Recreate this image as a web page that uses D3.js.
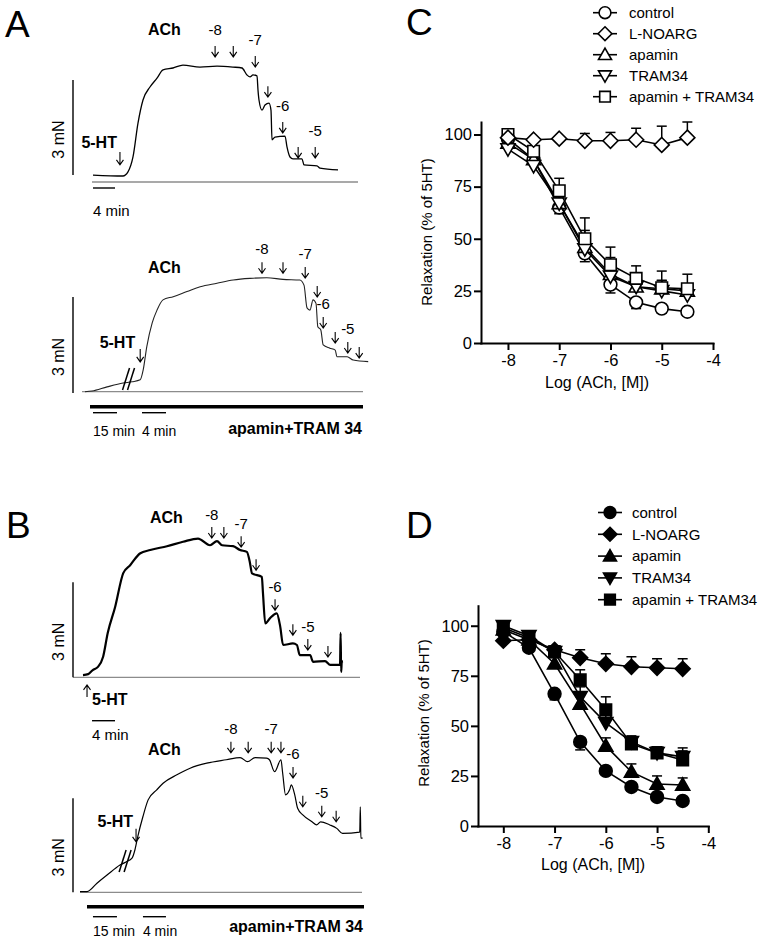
<!DOCTYPE html>
<html><head><meta charset="utf-8">
<script src="https://cdn.jsdelivr.net/npm/d3@7"></script>
<style>
body{margin:0;background:#fff;}
svg{display:block;font-family:"Liberation Sans",Arial,Helvetica,sans-serif;}
</style></head><body>
<svg id="fig" width="768" height="941"></svg>
<script>
// ---------------- DATA ----------------
const concLog = [-8, -7.5, -7, -6.5, -6, -5.5, -5, -4.5];
const seriesNames = ["control", "L-NOARG", "apamin", "TRAM34", "apamin + TRAM34"];
const seriesSymbols = ["circle", "diamond", "triUp", "triDown", "square"];
const errorDir = [-1, 1, 1, 1, 1];
const drawOrder = [0, 2, 3, 4, 1];
const xTickVals = [-8, -7, -6, -5, -4];
const yTickVals = [0, 25, 50, 75, 100];

// Panel C (open symbols)
const cControl = [98, 88, 65, 43, 28, 19.5, 16.5, 15];
const cLnoarg  = [98.5, 97.5, 98, 97, 97, 97.5, 95, 98.5];
const cApamin  = [96, 88, 67, 46, 33, 27, 26, 25];
const cTram34  = [93, 85, 67, 45, 32, 27, 25, 23];
const cApaTram = [100, 92, 73, 50, 37.5, 31, 26.5, 26];
const cControlErr = [2, 2, 3, 4, 4, 3, 2, 1];
const cLnoargErr  = [1, 1, 1, 3.5, 4, 5.5, 9, 7.5];
const cApaminErr  = [2, 2, 3, 5, 8, 4, 4, 3];
const cTram34Err  = [2, 2, 4, 9, 5, 5, 5, 4];
const cApaTramErr = [2, 2, 6, 10, 8.5, 6, 8, 7];

// Panel D (filled symbols)
const dControl = [97, 89, 66, 42, 27.5, 19.5, 14.5, 12.5];
const dLnoarg  = [92.5, 93, 88, 84, 81, 79.5, 79, 78.5];
const dApamin  = [98, 93, 81, 61, 40, 27, 21, 20.5];
const dTram34  = [100, 95, 87, 64.5, 51.5, 42, 36.5, 34.5];
const dApaTram = [99, 94, 87, 73, 58, 41, 36.5, 33];
const dControlErr = [2, 1.5, 3, 4, 1.5, 1.5, 1.5, 1];
const dLnoargErr  = [1, 1, 1.5, 4, 5, 5, 4.5, 5];
const dApaminErr  = [2, 2, 3, 5, 4, 4, 4, 3.5];
const dTram34Err  = [2, 2, 3, 5, 5, 3, 3, 3];
const dApaTramErr = [2, 2, 3, 5, 6.5, 3, 3, 6];

// Tension traces: [time (min), force (mN)]
const traceA1 = [[0,0.22],[5.45,0.19],[6.36,0.32],[7.27,0.79],[8.18,1.86],[9.09,2.59],[10.36,3.0],[11.64,3.28],[12.73,3.54],[14.55,3.6],[16.36,3.69],[19.45,3.63],[22.55,3.66],[25.45,3.63],[27.09,3.6],[28.0,3.38],[28.55,3.32],[29.09,3.38],[29.82,3.35],[30.0,2.9],[30.18,2.59],[30.73,2.27],[31.27,2.43],[32.0,2.49],[32.36,2.27],[32.55,1.33],[33.09,1.42],[34.91,1.45],[35.27,1.11],[35.82,0.79],[36.36,0.73],[38.0,0.73],[38.36,0.54],[40.73,0.51],[41.27,0.44],[44.55,0.38]];
const arrowsA1 = [[4.9,0.54,"5-HT"],[22.2,3.95,"-8"],[25.5,3.95,""],[29.5,3.63,"-7"],[31.8,2.68,""],[34.5,1.55,"-6"],[37.3,0.76,""],[40.4,0.76,"-5"]];

const traceA2 = [[0,0],[4.4,0.02],[13.8,0.15],[23.8,0.27],[29.4,0.31],[31.2,0.37],[31.7,0.68],[32.3,1.41],[33.2,2.15],[34.0,2.55],[35.0,2.87],[36.7,2.97],[39.0,3.13],[41.2,3.28],[44.0,3.39],[46.7,3.49],[49.5,3.54],[52.3,3.56],[55.0,3.51],[57.8,3.49],[58.5,3.33],[59.0,2.62],[59.5,2.55],[60.0,2.87],[60.5,2.76],[60.8,2.03],[61.3,1.93],[61.7,1.46],[62.8,1.36],[63.7,1.30],[64.0,1.09],[65.7,1.09],[66.7,0.99],[69.2,0.94]];
const arrowsA2 = [[31.2,0.93,"5-HT"],[51.5,3.70,"-8"],[55.0,3.70,""],[58.7,3.55,"-7"],[60.7,2.96,""],[61.7,1.99,"-6"],[63.7,1.52,""],[65.8,1.21,"-5"],[67.7,1.05,""]];

const traceB1 = [[0,0.07],[0.9,0.10],[1.7,0.23],[2.6,0.33],[3.5,0.65],[4.3,1.40],[5.6,2.23],[7.0,3.29],[8.2,3.54],[9.9,3.91],[11.7,4.02],[14.6,4.14],[17.4,4.28],[20.0,4.38],[22.1,4.17],[23.3,4.30],[24.2,4.17],[26.1,4.14],[27.3,4.02],[28.5,3.96],[29.0,3.65],[29.4,3.28],[31.1,3.17],[31.3,2.66],[31.7,1.70],[32.5,1.86],[33.7,2.02],[34.3,1.60],[34.8,1.02],[36.5,1.07],[37.2,1.02],[37.7,0.70],[39.5,0.70],[40.0,0.49],[42.1,0.51],[43.0,0.39],[44.3,0.39],[44.7,0.39],[44.8,1.40],[44.9,0.17],[45.0,0.49],[45.2,0.51]];
const arrowsB1 = [[0.7,-0.24,"5-HT"],[22.4,4.40,"-8"],[24.5,4.40,""],[27.5,4.11,"-7"],[30.1,3.38,""],[33.4,2.12,"-6"],[36.5,1.33,""],[39.1,0.86,"-5"],[42.6,0.64,""]];

const traceB2 = [[0,0.02],[4.4,0.02],[10.6,0.29],[16.9,0.55],[25.0,0.87],[28.75,0.97],[30.7,1.09],[31.2,1.35],[31.7,1.78],[32.6,2.42],[33.5,2.95],[35.0,3.27],[36.1,3.48],[38.5,3.75],[40.8,3.96],[43.7,4.12],[47.1,4.23],[49.5,4.30],[50.8,4.17],[52.1,4.30],[54.1,4.28],[54.6,4.23],[55.5,3.85],[56.6,4.23],[56.9,3.80],[57.4,3.11],[58.1,3.27],[58.4,3.43],[59.0,3.11],[59.5,2.68],[60.4,2.47],[62.0,2.25],[62.8,2.15],[63.5,2.25],[65.1,2.15],[66.3,2.04],[67.3,1.88],[70.3,1.92],[70.4,2.73],[70.5,1.73],[70.8,1.73]];
const arrowsB2 = [[31.4,1.61,"5-HT"],[47.9,4.45,"-8"],[50.9,4.45,""],[54.9,4.45,"-7"],[56.6,4.45,""],[58.7,3.65,"-6"],[60.4,2.73,""],[63.7,2.41,"-5"],[66.2,2.25,""]];

// ---------------- DRAWING ----------------
const svg = d3.select("#fig");
svg.append("rect").attr("width", 768).attr("height", 941).attr("fill", "#fff");

const symbolTypes = {
  circle:  {draw(c, s){ const r = Math.sqrt(s); c.moveTo(r, 0); c.arc(0, 0, r, 0, 2 * Math.PI); }},
  square:  {draw(c, s){ const r = Math.sqrt(s) * 0.9; c.moveTo(-r, -r); c.lineTo(r, -r); c.lineTo(r, r); c.lineTo(-r, r); c.closePath(); }},
  diamond: {draw(c, s){ const r = Math.sqrt(s) * 1.17; c.moveTo(0, -r); c.lineTo(r, 0); c.lineTo(0, r); c.lineTo(-r, 0); c.closePath(); }},
  triUp:   {draw(c, s){ const r = Math.sqrt(s) * 1.1; c.moveTo(0, -r); c.lineTo(r, r * 0.75); c.lineTo(-r, r * 0.75); c.closePath(); }},
  triDown: {draw(c, s){ const r = Math.sqrt(s) * 1.1; c.moveTo(0, r); c.lineTo(r, -r * 0.75); c.lineTo(-r, -r * 0.75); c.closePath(); }}
};
const symSize = 6.4 * 6.4;

function drawChart(cfg) {
  const x = d3.scaleLinear().domain(cfg.xDomain).range(cfg.xRange);
  const y = d3.scaleLinear().domain(cfg.yDomain).range(cfg.yRange);
  const g = svg.append("g");

  const xAxis = g.append("g").attr("transform", `translate(0,${cfg.yRange[0]})`)
    .call(d3.axisBottom(x).tickValues(xTickVals).tickSize(7).tickSizeOuter(0).tickPadding(4).tickFormat(d => String(d)));
  const yAxis = g.append("g").attr("transform", `translate(${cfg.xRange[0]},0)`)
    .call(d3.axisLeft(y).tickValues(yTickVals).tickSize(7).tickSizeOuter(0).tickPadding(2).tickFormat(d => String(d)));
  [xAxis, yAxis].forEach(a => {
    a.select(".domain").attr("stroke", "#000").attr("stroke-width", 2).attr("stroke-linecap", "square");
    a.selectAll(".tick line").attr("stroke", "#000").attr("stroke-width", 2);
    a.selectAll(".tick text").attr("fill", "#000").style("font-size", "16.5px")
      .style("font-family", '"Liberation Sans", Arial, sans-serif');
  });

  g.append("text").attr("transform", `translate(${cfg.yTitle[0]},${cfg.yTitle[1]}) rotate(-90)`)
    .attr("text-anchor", "middle").attr("dy", "0.35em").style("font-size", "15px")
    .text("Relaxation (% of 5HT)");
  g.append("text").attr("x", cfg.xTitle[0]).attr("y", cfg.xTitle[1])
    .attr("text-anchor", "middle").style("font-size", "16px").text("Log (ACh, [M])");

  const fill = cfg.filled ? "#000" : "#fff";
  const line = d3.line().x((d, j) => x(concLog[j])).y(d => y(d));

  drawOrder.forEach(i => {
    const vals = cfg.values[i], errs = cfg.errs[i], dir = errorDir[i];
    g.append("path").attr("d", line(vals)).attr("fill", "none").attr("stroke", "#000").attr("stroke-width", 1.6);
    const eb = g.append("g");
    vals.forEach((v, j) => {
      const cx = x(concLog[j]), y0 = y(v), y1 = y(v + dir * errs[j]);
      eb.append("line").attr("x1", cx).attr("x2", cx).attr("y1", y0).attr("y2", y1).attr("stroke", "#000").attr("stroke-width", 1.5);
      eb.append("line").attr("x1", cx - 5).attr("x2", cx + 5).attr("y1", y1).attr("y2", y1).attr("stroke", "#000").attr("stroke-width", 1.5);
    });
    g.append("g").selectAll("path").data(vals).join("path")
      .attr("transform", (d, j) => `translate(${x(concLog[j])},${y(d)})`)
      .attr("d", d3.symbol().type(symbolTypes[seriesSymbols[i]]).size(symSize))
      .attr("fill", fill).attr("stroke", "#000").attr("stroke-width", 1.6);
  });

  // legend
  const lg = g.append("g");
  seriesNames.forEach((name, i) => {
    const ly = cfg.legend.y0 + i * cfg.legend.dy;
    lg.append("line").attr("x1", cfg.legend.x - 12).attr("x2", cfg.legend.x + 12).attr("y1", ly).attr("y2", ly)
      .attr("stroke", "#000").attr("stroke-width", 1.6);
    lg.append("path").attr("transform", `translate(${cfg.legend.x},${ly})`)
      .attr("d", d3.symbol().type(symbolTypes[seriesSymbols[i]]).size(symSize * 0.85))
      .attr("fill", fill).attr("stroke", "#000").attr("stroke-width", 1.6);
    lg.append("text").attr("x", cfg.legend.textX).attr("y", ly).attr("dy", "0.35em")
      .style("font-size", "15px").text(name);
  });
}

drawChart({
  xDomain: [-8.526, -4], xRange: [481, 713], yDomain: [0, 106], yRange: [343, 122],
  yTitle: [427, 232], xTitle: [597, 388], filled: false,
  values: [cControl, cLnoarg, cApamin, cTram34, cApaTram],
  errs: [cControlErr, cLnoargErr, cApaminErr, cTram34Err, cApaTramErr],
  legend: {x: 605, textX: 629, y0: 12.7, dy: 21}
});
drawChart({
  xDomain: [-8.494, -4], xRange: [478, 708.3], yDomain: [0, 110], yRange: [826, 605.7],
  yTitle: [424, 713], xTitle: [593, 870], filled: true,
  values: [dControl, dLnoarg, dApamin, dTram34, dApaTram],
  errs: [dControlErr, dLnoargErr, dApaminErr, dTram34Err, dApaTramErr],
  legend: {x: 610, textX: 632, y0: 512.5, dy: 21.8}
});

function drawArrow(g, ax, tipY, len, up) {
  const s = up ? 1 : -1; // direction of tail from tip
  g.append("path")
    .attr("d", `M${ax},${tipY + s * len}L${ax},${tipY}M${ax - 3.5},${tipY + s * 5}L${ax},${tipY}L${ax + 3.5},${tipY + s * 5}`)
    .attr("fill", "none").attr("stroke", "#000").attr("stroke-width", 1.1);
}

function drawTrace(cfg) {
  const x = d3.scaleLinear().domain(cfg.tDomain).range(cfg.xRange);
  const y = d3.scaleLinear().domain([0, 3]).range([cfg.yBase, cfg.yBase - cfg.px3]);
  const g = svg.append("g");
  // baseline
  g.append("line").attr("x1", cfg.baseX[0]).attr("x2", cfg.baseX[1]).attr("y1", y(0)).attr("y2", y(0))
    .attr("stroke", "#8c8c8c").attr("stroke-width", 1.3);
  // vertical scale bar 3 mN
  g.append("line").attr("x1", cfg.sbX).attr("x2", cfg.sbX).attr("y1", y(cfg.sbF0)).attr("y2", y(cfg.sbF0 + 3))
    .attr("stroke", "#000").attr("stroke-width", 1.4);
  g.append("text").attr("transform", `translate(${cfg.sbX - 15},${(y(cfg.sbF0) + y(cfg.sbF0 + 3)) / 2 + 12}) rotate(-90)`)
    .attr("text-anchor", "middle").attr("dy", "0.35em").style("font-size", "16px").text("3 mN");
  // time bars
  cfg.timeBars.forEach(b => {
    g.append("line").attr("x1", x(b[0])).attr("x2", x(b[1])).attr("y1", b[2]).attr("y2", b[2])
      .attr("stroke", "#000").attr("stroke-width", 1.4);
    g.append("text").attr("x", x(b[0])).attr("y", b[4]).style("font-size", b[5] + "px").text(b[3]);
  });
  // drug bar
  if (cfg.drugBar) {
    g.append("line").attr("x1", cfg.drugBar[0]).attr("x2", cfg.drugBar[1]).attr("y1", cfg.drugBar[2]).attr("y2", cfg.drugBar[2])
      .attr("stroke", "#000").attr("stroke-width", 3.5);
    g.append("text").attr("x", cfg.drugBar[1] - 1).attr("y", cfg.drugBar[3]).attr("text-anchor", "end")
      .style("font-size", "16px").style("font-weight", "bold").text("apamin+TRAM 34");
  }
  // trace
  g.append("path").attr("d", d3.line().curve(d3.curveMonotoneX).x(d => x(d[0])).y(d => y(d[1]))(cfg.data))
    .attr("fill", "none").attr("stroke", cfg.color || "#000").attr("stroke-width", cfg.sw)
    .attr("stroke-linejoin", "round");
  // break marks
  if (cfg.breakAt) {
    const bx = x(cfg.breakAt[0]), by = y(cfg.breakAt[1]);
    [-2.5, 2.5].forEach(o => {
      g.append("line").attr("x1", bx + o - 3.5).attr("y1", by + 11).attr("x2", bx + o + 3.5).attr("y2", by - 11)
        .attr("stroke", "#000").attr("stroke-width", 1.5);
    });
  }
  // ACh label
  g.append("text").attr("x", cfg.ach[0]).attr("y", cfg.ach[1]).style("font-size", "16px").style("font-weight", "bold").text("ACh");
  // arrows
  cfg.arrows.forEach(a => {
    const ax = x(a[0]), tipY = y(a[1]);
    if (a[2] === "5-HT") {
      const up = cfg.htUp;
      drawArrow(g, ax, tipY, cfg.htLen, up);
      g.append("text").attr("x", ax + cfg.htLabel[0]).attr("y", tipY + cfg.htLabel[1])
        .attr("text-anchor", up ? "start" : "end").style("font-size", "16px").style("font-weight", "bold").text("5-HT");
    } else {
      drawArrow(g, ax, tipY, 11, false);
      if (a[2]) g.append("text").attr("x", ax).attr("y", tipY - cfg.labelGap).attr("text-anchor", "middle")
        .style("font-size", "15px").text(a[2]);
    }
  });
}

drawTrace({
  data: traceA1, arrows: arrowsA1, tDomain: [0, 50], xRange: [93, 368], yBase: 182, px3: 95,
  baseX: [92, 358], sbX: 73, sbF0: 0.22, sw: 1.3,
  timeBars: [[0, 4, 188, "4 min", 216, 15]], ach: [148, 35],
  htLen: 13, htUp: false, htLabel: [-3, -17], labelGap: 22
});
drawTrace({
  data: traceA2, arrows: arrowsA2, tDomain: [0, 30, 70], xRange: [85, 133, 373], yBase: 391.7, px3: 96,
  baseX: [82, 363], sbX: 73, sbF0: -0.04, sw: 1.1, color: "#222",
  timeBars: [[5, 20, 412.7, "15 min", 436, 14], [31.5, 35.5, 412.7, "4 min", 436, 14]],
  drugBar: [90, 363, 406.7, 434], breakAt: [27.2, 0.4], ach: [148, 273],
  htLen: 13, htUp: false, htLabel: [-5, -14], labelGap: 19
});
drawTrace({
  data: traceB1, arrows: arrowsB1, tDomain: [0, 50], xRange: [83, 370.5], yBase: 677.3, px3: 95,
  baseX: [73, 360], sbX: 73, sbF0: 0, sw: 2.2,
  timeBars: [[1.57, 5.57, 720.7, "4 min", 740, 15]], ach: [150, 523],
  htLen: 12, htUp: true, htLabel: [5, 20], labelGap: 18
});
drawTrace({
  data: traceB2, arrows: arrowsB2, tDomain: [0, 30, 70], xRange: [80, 128, 358], yBase: 892.3, px3: 94,
  baseX: [80, 362], sbX: 73, sbF0: 0, sw: 1.2,
  timeBars: [[8.1, 23.1, 916.7, "15 min", 936, 14], [32.6, 36.6, 916.7, "4 min", 936, 14]],
  drugBar: [87, 364, 906.7, 932], breakAt: [28.2, 1.0], ach: [148, 755],
  htLen: 13, htUp: false, htLabel: [-3, -15], labelGap: 19
});

// panel letters
[["A", 5, 37], ["B", 6, 538], ["C", 406, 35], ["D", 406, 538]].forEach(p => {
  svg.append("text").attr("x", p[1]).attr("y", p[2]).style("font-size", "37px").text(p[0]);
});
</script>
</body></html>
